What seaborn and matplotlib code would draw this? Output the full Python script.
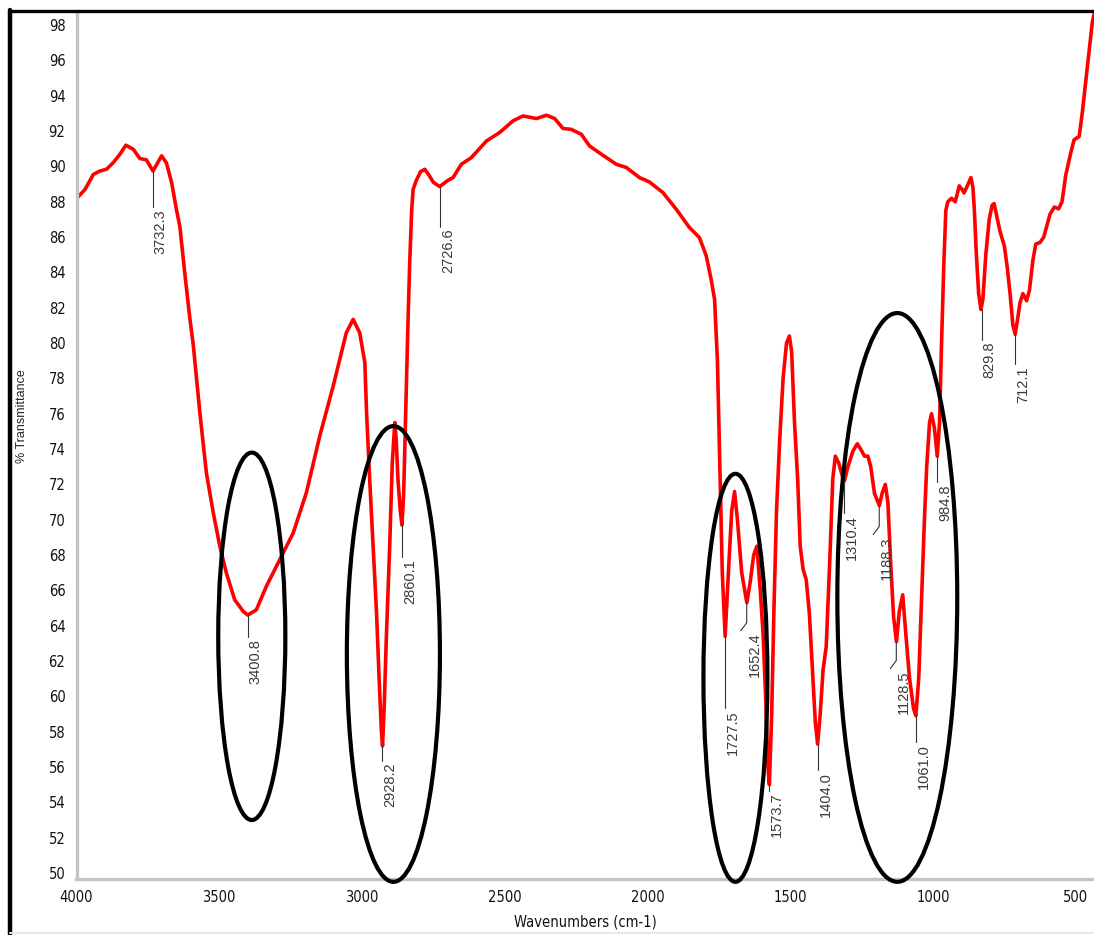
import numpy as np
import pandas as pd
import matplotlib
matplotlib.use("Agg")
import matplotlib.pyplot as plt
from matplotlib import font_manager
from matplotlib.font_manager import FontProperties
from matplotlib.patches import Ellipse
from matplotlib.lines import Line2D
import seaborn as sns

# ---------------- data ----------------
wavenumber = [
    3999, 3970, 3941, 3918, 3895, 3871, 3848, 3827, 3801, 3778, 3755, 3732,
    3702, 3685, 3667, 3650, 3638, 3621, 3603, 3591, 3568, 3545, 3521, 3498,
    3475, 3446, 3416, 3400, 3370, 3335, 3288, 3241, 3195, 3148, 3101, 3055,
    3031, 3008, 2990, 2984, 2973, 2961, 2949, 2940, 2932, 2928, 2922, 2915,
    2903, 2894, 2885, 2880, 2874, 2866, 2860, 2854, 2847, 2840, 2833, 2826,
    2821, 2810, 2795, 2780, 2765, 2750, 2728, 2700, 2681, 2652, 2617, 2564,
    2518, 2471, 2436, 2389, 2354, 2325, 2296, 2267, 2232, 2203, 2156, 2109,
    2074, 2028, 1993, 1946, 1899, 1853, 1818, 1794, 1777, 1765, 1755, 1745,
    1738, 1728, 1715, 1705, 1695, 1685, 1670, 1652, 1640, 1628, 1617, 1605,
    1595, 1585, 1578, 1573, 1565, 1557, 1548, 1537, 1525, 1513, 1503, 1495,
    1485, 1474, 1465, 1455, 1444, 1433, 1422, 1412, 1404, 1395, 1385, 1374,
    1362, 1351, 1342, 1330, 1318, 1310, 1298, 1280, 1265, 1250, 1240, 1228,
    1218, 1205, 1188, 1178, 1167, 1158, 1148, 1138, 1128, 1118, 1106, 1095,
    1082, 1068, 1060, 1050, 1040, 1030, 1022, 1012, 1005, 995, 985, 977,
    970, 962, 955, 948, 935, 922, 908, 898, 891, 880, 867, 860,
    855, 848, 840, 832, 825, 815, 803, 793, 786, 778, 765, 750,
    740, 730, 720, 712, 705, 695, 685, 672, 662, 650, 640, 625,
    612, 600, 590, 575, 560, 548, 535, 517, 506, 488, 477, 459,
    442, 436,
]
transmittance = [
    88.2, 88.7, 89.55, 89.74, 89.84, 90.22, 90.69, 91.2, 90.97, 90.45, 90.37, 89.74,
    90.6, 90.2, 89.1, 87.57, 86.6, 84.0, 81.4, 79.9, 76.07, 72.65, 70.4, 68.5,
    66.98, 65.47, 64.81, 64.6, 64.9, 66.23, 67.74, 69.25, 71.52, 74.73, 77.56, 80.58,
    81.34, 80.58, 78.9, 76.07, 72.27, 68.5, 64.7, 61.0, 58.0, 57.2, 59.5, 63.2,
    68.5, 73.2, 75.5, 74.5, 72.3, 70.5, 69.7, 71.5, 76.0, 80.5, 84.5, 87.5,
    88.7, 89.2, 89.7, 89.84, 89.5, 89.1, 88.86, 89.2, 89.37, 90.12, 90.5, 91.44,
    91.92, 92.58, 92.86, 92.71, 92.9, 92.71, 92.15, 92.1, 91.82, 91.16, 90.63, 90.12,
    89.94, 89.37, 89.12, 88.52, 87.57, 86.54, 85.97, 84.93, 83.6, 82.47, 79.0, 72.0,
    67.0, 63.4, 67.5, 70.5, 71.6, 70.0, 67.0, 65.3, 66.5, 68.0, 68.5, 66.0,
    63.5, 59.5, 56.0, 55.0, 59.0, 65.0, 70.5, 74.5, 78.0, 80.0, 80.4, 79.5,
    75.5, 72.3, 68.5, 67.2, 66.6, 64.7, 61.5, 58.5, 57.3, 59.0, 61.5, 62.8,
    67.5, 72.3, 73.6, 73.2, 72.5, 72.2, 73.0, 73.9, 74.3, 73.9, 73.6, 73.6,
    73.0, 71.5, 70.8, 71.5, 72.0, 71.0, 67.5, 64.5, 63.1, 64.8, 65.75, 63.5,
    61.0, 59.3, 58.9, 61.0, 65.5, 70.0, 73.0, 75.5, 76.0, 75.2, 73.6, 75.5,
    80.0, 84.5, 87.5, 88.0, 88.2, 88.0, 88.9, 88.7, 88.5, 88.9, 89.37, 88.8,
    87.5, 85.0, 82.8, 81.9, 82.5, 85.0, 87.0, 87.8, 87.9, 87.3, 86.3, 85.5,
    84.3, 82.8, 81.0, 80.5, 81.2, 82.3, 82.8, 82.4, 83.0, 84.7, 85.6, 85.7,
    86.0, 86.7, 87.3, 87.7, 87.6, 88.0, 89.5, 90.8, 91.5, 91.7, 93.05, 95.7,
    98.15, 98.6,
]

peak_labels = ["3732.3", "3400.8", "2928.2", "2860.1", "2726.6", "1727.5", "1652.4",
               "1573.7", "1404.0", "1310.4", "1188.3", "1128.5", "1061.0", "984.8",
               "829.8", "712.1"]
peak_wn = [3732.3, 3400.8, 2928.2, 2860.1, 2726.6, 1727.5, 1652.4, 1573.7, 1404.0,
           1310.4, 1188.3, 1128.5, 1061.0, 984.8, 829.8, 712.1]
peak_T = [89.74, 64.6, 57.2, 69.7, 88.86, 63.4, 65.3, 55.0, 57.3, 72.2, 70.8, 63.1,
          58.9, 73.6, 81.9, 80.5]
# leader lengths in pixels, and whether the leader ends with a small slanted kink
leader_px = [36, 22, 15, 32, 40, 72, 20, 6, 26, 32, 21, 19, 26, 26, 30, 30]
leader_kink = [False, False, False, False, False, False, True, False, False, False,
               True, True, False, False, False, False]

# highlight ellipses: centre wavenumber, centre %T, width (cm-1), height (%T)
ell_cx = [3386, 2890, 1692, 1125]
ell_cy = [63.4, 62.4, 61.05, 65.6]
ell_w = [235, 326, 224, 420]
ell_h = [20.8, 25.8, 23.1, 32.2]

x_ticks = [4000, 3500, 3000, 2500, 2000, 1500, 1000, 500]
y_ticks = list(range(50, 99, 2))

# ---------------- fonts ----------------
sns.set_style("white")
avail = {f.name for f in font_manager.fontManager.ttflist}
regular = "Liberation Sans" if "Liberation Sans" in avail else "DejaVu Sans"
plt.rcParams["font.family"] = [regular, "DejaVu Sans"]


def find_narrow():
    best = None
    for f in font_manager.fontManager.ttflist:
        nm = f.name
        cond = ("Narrow" in nm or "Condensed" in nm or
                str(f.stretch) in ("condensed", "semi-condensed", "extra-condensed"))
        w = f.weight
        regw = (w in (400, "normal", "regular", "book"))
        if cond and f.style == "normal" and regw:
            score = 0 if "Liberation" in nm else (1 if "DejaVu Sans" in nm else 2)
            if best is None or score < best[0]:
                best = (score, f.fname)
    return best[1] if best else None


narrow_path = find_narrow()


def narrow_fp(size):
    if narrow_path:
        return FontProperties(fname=narrow_path, size=size)
    return FontProperties(family=regular, size=size)


W, H = 1094, 935
fig = plt.figure(figsize=(W / 100, H / 100), dpi=100)
fig.patch.set_facecolor("white")
ax_left, ax_right, ax_top, ax_bot = 76.5, 1094, 11, 879
ax = fig.add_axes([ax_left / W, (H - ax_bot) / H, (ax_right - ax_left) / W, (ax_bot - ax_top) / H])
ax.set_facecolor("white")

df = pd.DataFrame({"wn": wavenumber, "T": transmittance})
sns.lineplot(data=df, x="wn", y="T", sort=False, estimator=None, color="#ff0000",
             lw=2.6, ax=ax, solid_joinstyle="round", solid_capstyle="round")

xlim = (4000, 436)
ylim = (49.66, 98.8)
ax.set_xlim(*xlim)
ax.set_ylim(*ylim)

ppx = (ax_right - ax_left) / (xlim[0] - xlim[1])   # pixels per cm-1
ppy = (ax_bot - ax_top) / (ylim[1] - ylim[0])      # pixels per %T

# spines and ticks
for s in ["top", "right"]:
    ax.spines[s].set_visible(False)
for s in ["left", "bottom"]:
    ax.spines[s].set_color("#c4c4c4")
    ax.spines[s].set_linewidth(2.4)
ax.set_xticks(x_ticks)
ax.set_xticklabels([str(v) for v in x_ticks])
ax.set_yticks(y_ticks)
ax.set_yticklabels([str(v) for v in y_ticks])
ax.set_xticks(np.arange(4000, 430, -100), minor=True)
ax.set_yticks(np.arange(50, 98.9, 0.25), minor=True)
ax.tick_params(axis="both", which="major", direction="out", length=5, width=1.0,
               color="#222222", labelsize=10, pad=3, labelcolor="#111111")
ax.tick_params(axis="both", which="minor", direction="out", length=2.5, width=1.0,
               color="#444444")
for lab in ax.get_xticklabels() + ax.get_yticklabels():
    lab.set_fontproperties(narrow_fp(10.5))
ax.set_xlabel("Wavenumbers (cm-1)", fontproperties=narrow_fp(10.5),
              color="#111111", labelpad=7)
ax.set_ylabel("")
fig.text(22 / W, 1 - 416 / H, "% Transmittance", rotation=90, ha="center", va="center",
         fontsize=9, color="#222222", family=[regular, "DejaVu Sans"])

# ellipses
for cx, cy, w, h in zip(ell_cx, ell_cy, ell_w, ell_h):
    ax.add_patch(Ellipse((cx, cy), w, h, fill=False, edgecolor="black", lw=3.0,
                         clip_on=False, zorder=5))

# peak annotations
for lab, wn, t, L, kink in zip(peak_labels, peak_wn, peak_T, leader_px, leader_kink):
    y_end = t - L / ppy
    xs = [wn, wn]
    ys = [t, y_end]
    if kink:
        xs.append(wn + 6 / ppx)
        ys.append(y_end - 8 / ppy)
        y_text = y_end - 10 / ppy
    else:
        y_text = y_end - 2 / ppy
    ax.plot(xs, ys, color="#333333", lw=0.8, zorder=6)
    ax.text(wn - 8 / ppx, y_text, lab, rotation=90, ha="center", va="top",
            fontsize=10.5, color="#3a3a3a", family=[regular, "DejaVu Sans"], zorder=6)

# window frame lines (screenshot border)
fig.add_artist(Line2D([10 / W, 10 / W], [0, 1 - 10 / H], color="black", lw=3.2,
                      transform=fig.transFigure))
fig.add_artist(Line2D([10 / W, 1], [1 - 11 / H, 1 - 11 / H], color="black", lw=2.4,
                      transform=fig.transFigure))
fig.add_artist(Line2D([10 / W, 1], [2 / H, 2 / H], color="#ece8dc", lw=1.5,
                      transform=fig.transFigure))

fig.savefig("out.png", dpi=100, facecolor="white")
